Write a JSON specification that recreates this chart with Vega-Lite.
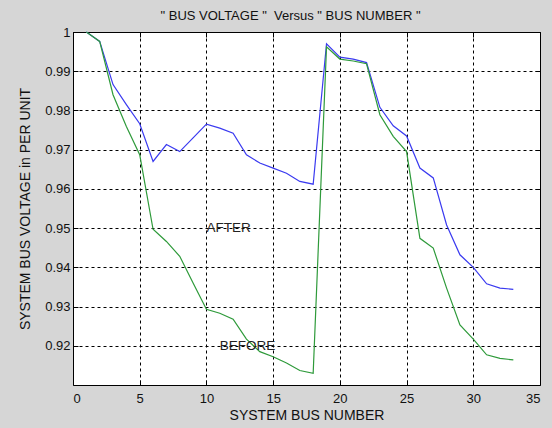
{
  "$schema": "https://vega.github.io/schema/vega-lite/v6.json",
  "width": 467,
  "height": 353,
  "autosize": {"type": "none"},
  "padding": {"left": 73, "top": 32, "right": 12, "bottom": 43},
  "background": "#d6d6d6",
  "title": {"text": "\" BUS VOLTAGE \"\u00a0 Versus \" BUS NUMBER \"", "font": "Liberation Sans", "fontSize": 13, "fontWeight": "normal", "color": "#111", "offset": 3, "anchor": "middle", "dx": -16},
  "config": {
    "view": {"stroke": "#000", "strokeWidth": 1, "fill": "white"},
    "axis": {"labelFont": "Liberation Sans", "labelFontSize": 13, "labelColor": "#111", "titleFont": "Liberation Sans", "titleFontSize": 14, "titleFontWeight": "normal", "titleColor": "#111", "gridColor": "#000", "gridDash": [3, 3], "gridOpacity": 1, "gridWidth": 1, "domain": false, "tickColor": "#000", "tickSize": -5, "labelPadding": 9}
  },
  "datasets": {
    "lines": [
      {"bus": 1, "voltage": 1.0, "series": "AFTER"},
      {"bus": 2, "voltage": 0.9976, "series": "AFTER"},
      {"bus": 3, "voltage": 0.9866, "series": "AFTER"},
      {"bus": 4, "voltage": 0.9815, "series": "AFTER"},
      {"bus": 5, "voltage": 0.9766, "series": "AFTER"},
      {"bus": 6, "voltage": 0.967, "series": "AFTER"},
      {"bus": 7, "voltage": 0.9713, "series": "AFTER"},
      {"bus": 8, "voltage": 0.9695, "series": "AFTER"},
      {"bus": 9, "voltage": 0.973, "series": "AFTER"},
      {"bus": 10, "voltage": 0.9765, "series": "AFTER"},
      {"bus": 11, "voltage": 0.9755, "series": "AFTER"},
      {"bus": 12, "voltage": 0.9742, "series": "AFTER"},
      {"bus": 13, "voltage": 0.9687, "series": "AFTER"},
      {"bus": 14, "voltage": 0.9666, "series": "AFTER"},
      {"bus": 15, "voltage": 0.9653, "series": "AFTER"},
      {"bus": 16, "voltage": 0.964, "series": "AFTER"},
      {"bus": 17, "voltage": 0.9619, "series": "AFTER"},
      {"bus": 18, "voltage": 0.9612, "series": "AFTER"},
      {"bus": 19, "voltage": 0.997, "series": "AFTER"},
      {"bus": 20, "voltage": 0.9936, "series": "AFTER"},
      {"bus": 21, "voltage": 0.9931, "series": "AFTER"},
      {"bus": 22, "voltage": 0.9922, "series": "AFTER"},
      {"bus": 23, "voltage": 0.9808, "series": "AFTER"},
      {"bus": 24, "voltage": 0.9761, "series": "AFTER"},
      {"bus": 25, "voltage": 0.9735, "series": "AFTER"},
      {"bus": 26, "voltage": 0.9653, "series": "AFTER"},
      {"bus": 27, "voltage": 0.9628, "series": "AFTER"},
      {"bus": 28, "voltage": 0.9508, "series": "AFTER"},
      {"bus": 29, "voltage": 0.9432, "series": "AFTER"},
      {"bus": 30, "voltage": 0.94, "series": "AFTER"},
      {"bus": 31, "voltage": 0.9358, "series": "AFTER"},
      {"bus": 32, "voltage": 0.9347, "series": "AFTER"},
      {"bus": 33, "voltage": 0.9344, "series": "AFTER"},
      {"bus": 1, "voltage": 1.0, "series": "BEFORE"},
      {"bus": 2, "voltage": 0.9976, "series": "BEFORE"},
      {"bus": 3, "voltage": 0.984, "series": "BEFORE"},
      {"bus": 4, "voltage": 0.9759, "series": "BEFORE"},
      {"bus": 5, "voltage": 0.9687, "series": "BEFORE"},
      {"bus": 6, "voltage": 0.9497, "series": "BEFORE"},
      {"bus": 7, "voltage": 0.9466, "series": "BEFORE"},
      {"bus": 8, "voltage": 0.9428, "series": "BEFORE"},
      {"bus": 9, "voltage": 0.936, "series": "BEFORE"},
      {"bus": 10, "voltage": 0.9293, "series": "BEFORE"},
      {"bus": 11, "voltage": 0.9283, "series": "BEFORE"},
      {"bus": 12, "voltage": 0.9268, "series": "BEFORE"},
      {"bus": 13, "voltage": 0.9217, "series": "BEFORE"},
      {"bus": 14, "voltage": 0.9185, "series": "BEFORE"},
      {"bus": 15, "voltage": 0.9172, "series": "BEFORE"},
      {"bus": 16, "voltage": 0.9156, "series": "BEFORE"},
      {"bus": 17, "voltage": 0.9137, "series": "BEFORE"},
      {"bus": 18, "voltage": 0.913, "series": "BEFORE"},
      {"bus": 19, "voltage": 0.9962, "series": "BEFORE"},
      {"bus": 20, "voltage": 0.9931, "series": "BEFORE"},
      {"bus": 21, "voltage": 0.9926, "series": "BEFORE"},
      {"bus": 22, "voltage": 0.9919, "series": "BEFORE"},
      {"bus": 23, "voltage": 0.9789, "series": "BEFORE"},
      {"bus": 24, "voltage": 0.9734, "series": "BEFORE"},
      {"bus": 25, "voltage": 0.9695, "series": "BEFORE"},
      {"bus": 26, "voltage": 0.9474, "series": "BEFORE"},
      {"bus": 27, "voltage": 0.9449, "series": "BEFORE"},
      {"bus": 28, "voltage": 0.9347, "series": "BEFORE"},
      {"bus": 29, "voltage": 0.9253, "series": "BEFORE"},
      {"bus": 30, "voltage": 0.9217, "series": "BEFORE"},
      {"bus": 31, "voltage": 0.9177, "series": "BEFORE"},
      {"bus": 32, "voltage": 0.9168, "series": "BEFORE"},
      {"bus": 33, "voltage": 0.9164, "series": "BEFORE"}
    ],
    "labels": [
      {"bus": 10, "voltage": 0.95, "label": "AFTER"},
      {"bus": 11, "voltage": 0.92, "label": "BEFORE"}
    ]
  },
  "layer": [
    {
      "data": {"name": "lines"},
      "mark": {"type": "line", "strokeWidth": 1.2},
      "encoding": {
        "x": {"field": "bus", "type": "quantitative", "scale": {"domain": [0, 35], "nice": false, "zero": false},
              "axis": {"orient": "bottom", "values": [0, 5, 10, 15, 20, 25, 30, 35], "title": "SYSTEM BUS NUMBER", "titlePadding": 3, "labelPadding": 12, "grid": true}},
        "y": {"field": "voltage", "type": "quantitative", "scale": {"domain": [0.91, 1.0], "nice": false, "zero": false},
              "axis": {"orient": "left", "values": [0.92, 0.93, 0.94, 0.95, 0.96, 0.97, 0.98, 0.99, 1.0], "format": "~g", "title": "SYSTEM BUS VOLTAGE in PER UNIT", "titlePadding": 12, "labelPadding": 8, "grid": true}},
        "color": {"field": "series", "type": "nominal", "scale": {"domain": ["AFTER", "BEFORE"], "range": ["#3a3af0", "#2e9a3a"]}, "legend": null},
        "order": {"field": "bus", "type": "quantitative"}
      }
    },
    {
      "data": {"name": "labels"},
      "mark": {"type": "text", "align": "left", "baseline": "middle", "font": "Liberation Sans", "fontSize": 13.5, "color": "#222"},
      "encoding": {
        "x": {"field": "bus", "type": "quantitative", "axis": {"orient": "top", "values": [0, 5, 10, 15, 20, 25, 30, 35], "labels": false, "title": null, "grid": false}},
        "y": {"field": "voltage", "type": "quantitative", "axis": {"orient": "right", "values": [0.92, 0.93, 0.94, 0.95, 0.96, 0.97, 0.98, 0.99, 1.0], "labels": false, "title": null, "grid": false}},
        "text": {"field": "label"}
      }
    }
  ],
  "resolve": {"axis": {"x": "independent", "y": "independent"}}
}
